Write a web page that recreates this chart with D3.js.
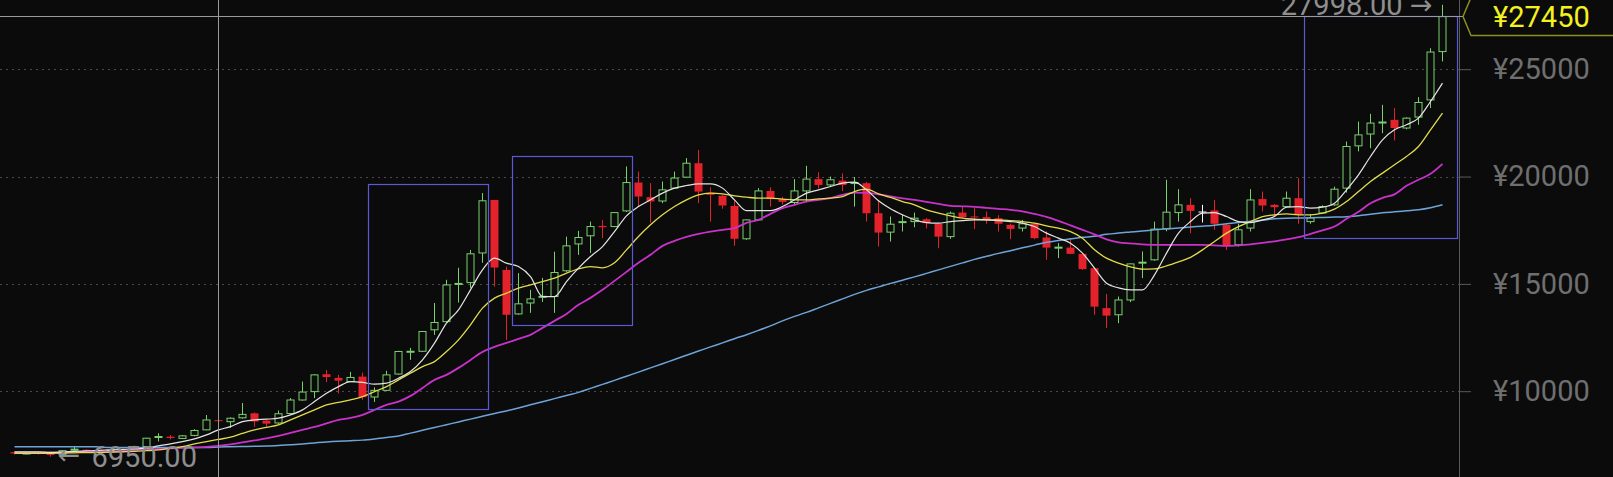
<!DOCTYPE html>
<html>
<head>
<meta charset="utf-8">
<script src="https://cdn.jsdelivr.net/npm/d3@7"></script>
<style>
  html, body { margin: 0; padding: 0; background: #0b0b0b; overflow: hidden; }
  #kline { width: 1613px; height: 477px; }
  text { font-family: Roboto, "Noto Sans", "DejaVu Sans", sans-serif; }
</style>
</head>
<body>
<div id="kline"></div>
<script>
// daily candles (120 bars)
const opens = [7160,7100,7120,7090,7060,7260,7270,7150,7200,7240, 7270,7420,7860,7880,7800,7940,8200,8650,8580,8760,
  8970,8630,8520,8960,9590,9980,10790,10620,10450,10680, 9730,10040,10800,11820,11860,12860,13240,14980,15060,16440,
  18910,15650,13600,14110,14380,14410,15610,16860,17240,17700, 17670,18400,19720,19040,18860,19460,19970,20620,19250,19100,
  18630,17100,17980,19330,18950,18790,19330,19880,19610,19810, 19690,19690,18290,17410,17860,17900,18010,17800,17200,18320,
  18140,18110,18060,17750,17600,17800,17160,16680,16690,16400, 15730,13870,13560,14250,15970,16120,17560,18320,18680,18370,
  18420,17750,16820,17600,18950,18680,18600,18990,17900,18300, 18680,19460,21430,21980,22500,22640,22260,22770,23570,25820];
const highs = [7190,7150,7160,7130,7250,7450,7290,7230,7280,7310, 7460,7830,8040,7960,7960,8230,8890,8660,8780,9450,
  9010,8650,9100,9680,10450,10790,10990,10760,10900,10870, 10180,10950,11880,12020,12800,14110,15190,15750,16580,19230,
  18910,15800,15500,14720,15280,16500,17200,17470,17900,17970, 18340,20470,20230,19690,19770,20230,20860,21240,19500,19150,
  18900,18000,19460,19500,19050,19880,20500,20200,20000,20150, 19980,19750,18900,18140,18210,18320,18060,17830,18370,18590,
  18520,18370,18200,17800,17980,17830,17450,16900,17130,16420, 15780,14530,14410,15950,16510,17900,19850,19410,18990,18680,
  18910,17780,17800,19410,19300,18720,19300,19930,18250,18660, 19530,21630,22560,22920,23340,23190,22760,23700,25980,27998];
const lows = [7050,7060,7050,6950,7040,7230,7120,7120,7170,7200, 7250,7380,7660,7750,7780,7900,8180,8620,8290,8720,
  8340,8350,8480,8930,9560,9680,10420,9900,10420,9600, 9500,10000,10770,11460,11830,12620,13200,14130,14810,15980,
  14870,12390,13560,13650,14160,13650,15560,16350,16440,17130, 17640,18350,18600,17860,18760,19420,19950,18760,17900,18500,
  16770,17050,17950,18600,18700,18700,18840,19450,19560,19320, 18600,17900,16740,16970,17440,17640,17580,16660,17100,18060,
  17550,17800,17440,17080,17440,17080,16120,16200,16380,15650, 13560,12940,13170,14150,15270,16080,17450,17900,17360,17860,
  17520,16580,16740,17440,18370,18140,18560,17800,17800,18260, 18640,19250,21170,21320,22020,21680,22200,22410,23190,25360];
const closes = [7100,7120,7080,7030,7230,7300,7150,7200,7250,7280, 7420,7810,7890,7820,7920,8170,8660,8630,8740,8920,
  8590,8490,8950,9590,9960,10760,10660,10490,10640,9720, 10040,10760,11850,11860,12780,13200,14950,15020,16400,18870,
  15760,13560,14070,14300,14420,15530,16770,17160,17670,17640, 18320,19720,19070,18840,19380,19930,20620,19300,19150,18650,
  17100,17980,19330,18950,18820,19330,19880,19610,19850,19610, 19720,18290,17390,17780,17900,18060,17830,17200,18290,18110,
  18100,18010,17800,17560,17800,17130,16690,16710,16400,15690, 13940,13520,14250,15930,16010,17550,18340,18680,18400,18370,
  17800,16770,17520,18910,18650,18570,18990,18220,18070,18600, 19410,21400,21940,22490,22540,22260,22720,23450,25800,27450];

// moving average lines as drawn in the picture
const ma5 = [7170,7170,7170,7150,7170,7195,7218,7241,7265,7288, 7311,7344,7451,7544,7651,7777,7964,8197,8350,8583,
  8663,8695,8742,8896,9129,9515,9907,10214,10447,10410, 10326,10373,10606,10913,11459,12237,13169,13789,14721,15653,
  16198,15965,15806,15340,14408,14408,15107,15732,16272,16738, 17437,18169,18602,18915,19227,19460,19581,19660,19660,19460,
  18915,18416,18416,18416,18602,18915,19227,19381,19534,19693, 19739,19381,18868,18495,18216,17983,17857,17829,17903,17950,
  17983,17983,17950,17903,17829,17670,17363,17130,16897,16431, 15732,15033,14814,14721,14721,15420,16431,17363,17903,18295,
  18323,18136,17903,17857,17983,18136,18574,18602,18528,18574, 18761,19381,20080,20932,21711,22177,22410,22722,23495,24353];
const ma10 = [7110,7110,7110,7110,7120,7130,7140,7150,7160,7180, 7200,7230,7265,7344,7418,7544,7651,7754,7856,8033,
  8197,8313,8430,8663,8896,9129,9362,9478,9595,9748, 9981,10214,10527,10839,11146,11379,11845,12391,13090,13868,
  14334,14567,14800,14954,15107,15266,15499,15699,15806,15746, 15979,16585,17204,17750,18216,18602,18915,19148,19227,19194,
  19101,19040,18994,18994,18947,18915,18915,18961,18994,19068, 19301,19413,19194,19031,18835,18682,18449,18295,18169,18062,
  18015,17983,17983,17950,17903,17829,17703,17596,17437,17130, 16585,16198,15965,15792,15685,15699,15839,16025,16235,16585,
  16971,17363,17670,17903,18136,18216,18262,18216,18216,18295, 18481,18835,19301,19767,20159,20546,20932,21398,22177,22955];
const ma20 = [7139,7139,7139,7139,7139,7171,7171,7171,7171,7218, 7265,7297,7311,7334,7358,7381,7404,7451,7521,7614,
  7707,7800,7917,8057,8197,8336,8499,8663,8756,8896, 9129,9362,9515,9781,10154,10527,10760,11086,11459,11831,
  12064,12251,12437,12624,12950,13276,13602,14022,14348,14721, 15140,15559,15979,16352,16771,17004,17190,17330,17437,17517,
  17596,17843,17983,18262,18528,18682,18835,18915,18994,19148, 19255,19241,19171,19078,18984,18915,18821,18728,18635,18612,
  18588,18542,18495,18449,18379,18262,18122,17936,17726,17517, 17307,17074,16934,16887,16841,16818,16818,16818,16818,16818,
  16794,16771,16794,16841,16911,16981,17074,17176,17330,17493, 17670,18029,18355,18751,19008,19171,19567,19847,20126,20592];
const ma60 = [7418,7418,7418,7418,7418,7418,7418,7404,7381,7381, 7381,7381,7381,7381,7381,7381,7381,7404,7414,7423,
  7432,7442,7474,7507,7544,7591,7637,7670,7693,7721, 7777,7847,7917,8047,8178,8308,8439,8569,8700,8830,
  8961,9082,9222,9366,9511,9655,9800,9944,10130,10317, 10503,10699,10890,11086,11282,11477,11673,11869,12064,12251,
  12447,12633,12833,13043,13276,13486,13672,13882,14091,14301, 14511,14697,14860,15023,15173,15326,15489,15653,15816,15979,
  16142,16282,16421,16547,16678,16804,16934,17023,17097,17167, 17214,17307,17367,17414,17461,17517,17563,17600,17647,17689,
  17736,17796,17857,17913,17969,18029,18057,18066,18076,18094, 18113,18132,18169,18239,18309,18355,18402,18449,18542,18682];

const priceTicks = [10000, 15000, 20000, 25000];

// highlighted ranges (bar index from/to, price bottom/top)
const boxFrom = [30, 42, 108];
const boxTo = [39, 51, 119];
const boxLow = [9160, 13090, 17150];
const boxHigh = [19650, 20950, 27480];

// crosshair position
const crossIndex = 17;
const crossPrice = 27450;

class KLineChart {
  constructor() {
    this.config = {
      parentElement: "#kline",
      containerWidth: 1613,
      containerHeight: 477,
      plotLeft: 8,
      plotRight: 1459,
      candleRight: 1448,
    };
    this.initVis();
  }

  initVis() {
    const vis = this;
    vis.svg = d3
      .select(vis.config.parentElement)
      .append("svg")
      .attr("width", vis.config.containerWidth)
      .attr("height", vis.config.containerHeight);

    vis.svg
      .append("rect")
      .attr("width", vis.config.containerWidth)
      .attr("height", vis.config.containerHeight)
      .attr("fill", "#0b0b0b");

    vis.x = d3
      .scaleBand()
      .domain(d3.range(closes.length))
      .range([vis.config.plotLeft, vis.config.candleRight])
      .paddingInner(0.33)
      .paddingOuter(0.165);

    vis.y = d3.scaleLinear().domain([10000, 25000]).range([391.2, 69.2]);

    vis.gridG = vis.svg.append("g");
    vis.candleG = vis.svg.append("g");
    vis.lineG = vis.svg.append("g");
    vis.boxG = vis.svg.append("g");
    vis.axisG = vis.svg
      .append("g")
      .attr("transform", `translate(${vis.config.plotRight},0)`);
    vis.overlayG = vis.svg.append("g");

    vis.updateVis();
  }

  cx(i) {
    return Math.floor(this.x(i) + this.x.bandwidth() / 2) + 0.5;
  }

  updateVis() {
    const vis = this;
    const bw = Math.round(vis.x.bandwidth());
    const idx = d3.range(closes.length);

    // dashed price grid
    vis.gridG
      .selectAll(".grid")
      .data(priceTicks)
      .join("line")
      .attr("class", "grid")
      .attr("x1", 0)
      .attr("x2", vis.config.plotRight)
      .attr("y1", (d) => Math.round(vis.y(d)) + 0.5)
      .attr("y2", (d) => Math.round(vis.y(d)) + 0.5)
      .attr("stroke", "#4a4a4a")
      .attr("stroke-dasharray", "2,4");

    // right axis
    vis.axisG.call(
      d3
        .axisRight(vis.y)
        .tickValues(priceTicks)
        .tickFormat((d) => "¥" + d)
        .tickSize(12)
        .tickPadding(22)
    );
    vis.axisG.select(".domain").remove();
    vis.axisG.selectAll(".tick line").attr("stroke", "#5a5a5a");
    vis.axisG
      .selectAll(".tick text")
      .attr("fill", "#6f6f6f")
      .style("font-size", "29px")
      .style("font-family", "Roboto, sans-serif");
    vis.axisG
      .append("line")
      .attr("x1", 0.5)
      .attr("x2", 0.5)
      .attr("y1", 0)
      .attr("y2", vis.config.containerHeight)
      .attr("stroke", "#5a5a5a");

    // candles
    const upColor = "#78d26c";
    const downColor = "#e4222b";
    const colorOf = (i) =>
      closes[i] > opens[i] ? upColor : closes[i] < opens[i] ? downColor : "#ffffff";

    vis.candleG
      .selectAll(".wick")
      .data(idx)
      .join("line")
      .attr("class", "wick")
      .attr("x1", (i) => vis.cx(i))
      .attr("x2", (i) => vis.cx(i))
      .attr("y1", (i) => vis.y(highs[i]))
      .attr("y2", (i) => vis.y(lows[i]))
      .attr("stroke", colorOf);

    vis.candleG
      .selectAll(".body")
      .data(idx)
      .join("rect")
      .attr("class", "body")
      .attr("x", (i) =>
        closes[i] > opens[i] ? vis.cx(i) - bw / 2 + 0.5 : vis.cx(i) - 0.5 - bw / 2 + 0.5
      )
      .attr("width", (i) => (closes[i] > opens[i] ? bw - 1 : bw))
      .attr("y", (i) => vis.y(Math.max(opens[i], closes[i])))
      .attr("height", (i) =>
        Math.max(1, Math.abs(vis.y(opens[i]) - vis.y(closes[i])))
      )
      .attr("fill", (i) => (closes[i] > opens[i] ? "#0b0b0b" : colorOf(i)))
      .attr("stroke", (i) => (closes[i] > opens[i] ? upColor : "none"));

    // moving averages
    const maSeries = [
      { values: ma60, color: "#6ea4d8", width: 1.5 },
      { values: ma20, color: "#c932c9", width: 1.8 },
      { values: ma10, color: "#e2dc4c", width: 1.3 },
      { values: ma5, color: "#e4e4e4", width: 1.2 },
    ];
    const line = d3
      .line()
      .x((d, i) => vis.cx(i))
      .y((d) => vis.y(d))
      .curve(d3.curveMonotoneX);

    vis.lineG
      .selectAll(".ma")
      .data(maSeries)
      .join("path")
      .attr("class", "ma")
      .attr("d", (d) => line(d.values))
      .attr("fill", "none")
      .attr("stroke", (d) => d.color)
      .attr("stroke-width", (d) => d.width);

    // highlight boxes
    const last = closes.length - 1;
    vis.boxG
      .selectAll(".box")
      .data(boxFrom.map((f, k) => k))
      .join("rect")
      .attr("class", "box")
      .attr("x", (k) => Math.round(vis.x(boxFrom[k]) - 2) + 0.5)
      .attr("y", (k) => Math.round(vis.y(boxHigh[k])) + 0.5)
      .attr("width", (k) => {
        const left = Math.round(vis.x(boxFrom[k]) - 2);
        const right =
          boxTo[k] === last
            ? vis.config.plotRight - 2
            : Math.round(vis.x(boxTo[k]) + vis.x.bandwidth() + 2);
        return right - left;
      })
      .attr("height", (k) => Math.round(vis.y(boxLow[k]) - vis.y(boxHigh[k])))
      .attr("fill", "none")
      .attr("stroke", "#5a5ad8")
      .attr("stroke-width", 1.2);

    // crosshair
    const cy = Math.round(vis.y(crossPrice)) - 0.5;
    vis.overlayG
      .append("line")
      .attr("x1", vis.cx(crossIndex))
      .attr("x2", vis.cx(crossIndex))
      .attr("y1", 0)
      .attr("y2", vis.config.containerHeight)
      .attr("stroke", "#9a9a9a");
    vis.overlayG
      .append("line")
      .attr("x1", 0)
      .attr("x2", vis.config.plotRight + 4)
      .attr("y1", cy)
      .attr("y2", cy)
      .attr("stroke", "#9a9a9a");

    const tagX = vis.config.plotRight + 4;
    vis.overlayG
      .append("path")
      .attr(
        "d",
        `M${tagX},${cy} L${tagX + 8},${cy - 19} L${vis.config.containerWidth + 2},${cy - 19} ` +
          `L${vis.config.containerWidth + 2},${cy + 19} L${tagX + 8},${cy + 19} Z`
      )
      .attr("fill", "#0b0b0b")
      .attr("stroke", "#8f8d22")
      .attr("stroke-width", 1.5);
    vis.overlayG
      .append("text")
      .attr("x", vis.config.plotRight + 34)
      .attr("y", cy + 10.5)
      .attr("fill", "#f4f21e")
      .style("font-size", "29px")
      .text("¥" + crossPrice);

    // max / min markers
    const maxI = d3.maxIndex(highs);
    const minI = d3.minIndex(lows);
    const fmt = d3.format(".2f");
    const markColor = "#8e8e8e";

    const maxY = vis.y(highs[maxI]) + 10.3;
    vis.overlayG
      .append("text")
      .attr("x", vis.cx(maxI) - 10)
      .attr("y", maxY - 1)
      .attr("text-anchor", "end")
      .attr("fill", markColor)
      .style("font-size", "27px")
      .text("→");
    vis.overlayG
      .append("text")
      .attr("x", vis.cx(maxI) - 40)
      .attr("y", maxY)
      .attr("text-anchor", "end")
      .attr("fill", markColor)
      .style("font-size", "29px")
      .text(fmt(highs[maxI]));

    const minY = vis.y(lows[minI]) + 10.3;
    vis.overlayG
      .append("text")
      .attr("x", vis.cx(minI) + 7)
      .attr("y", minY - 3)
      .attr("fill", markColor)
      .style("font-size", "27px")
      .text("←");
    vis.overlayG
      .append("text")
      .attr("x", vis.cx(minI) + 41)
      .attr("y", minY)
      .attr("fill", markColor)
      .style("font-size", "29px")
      .text(fmt(lows[minI]));
  }
}

new KLineChart();
</script>
</body>
</html>
